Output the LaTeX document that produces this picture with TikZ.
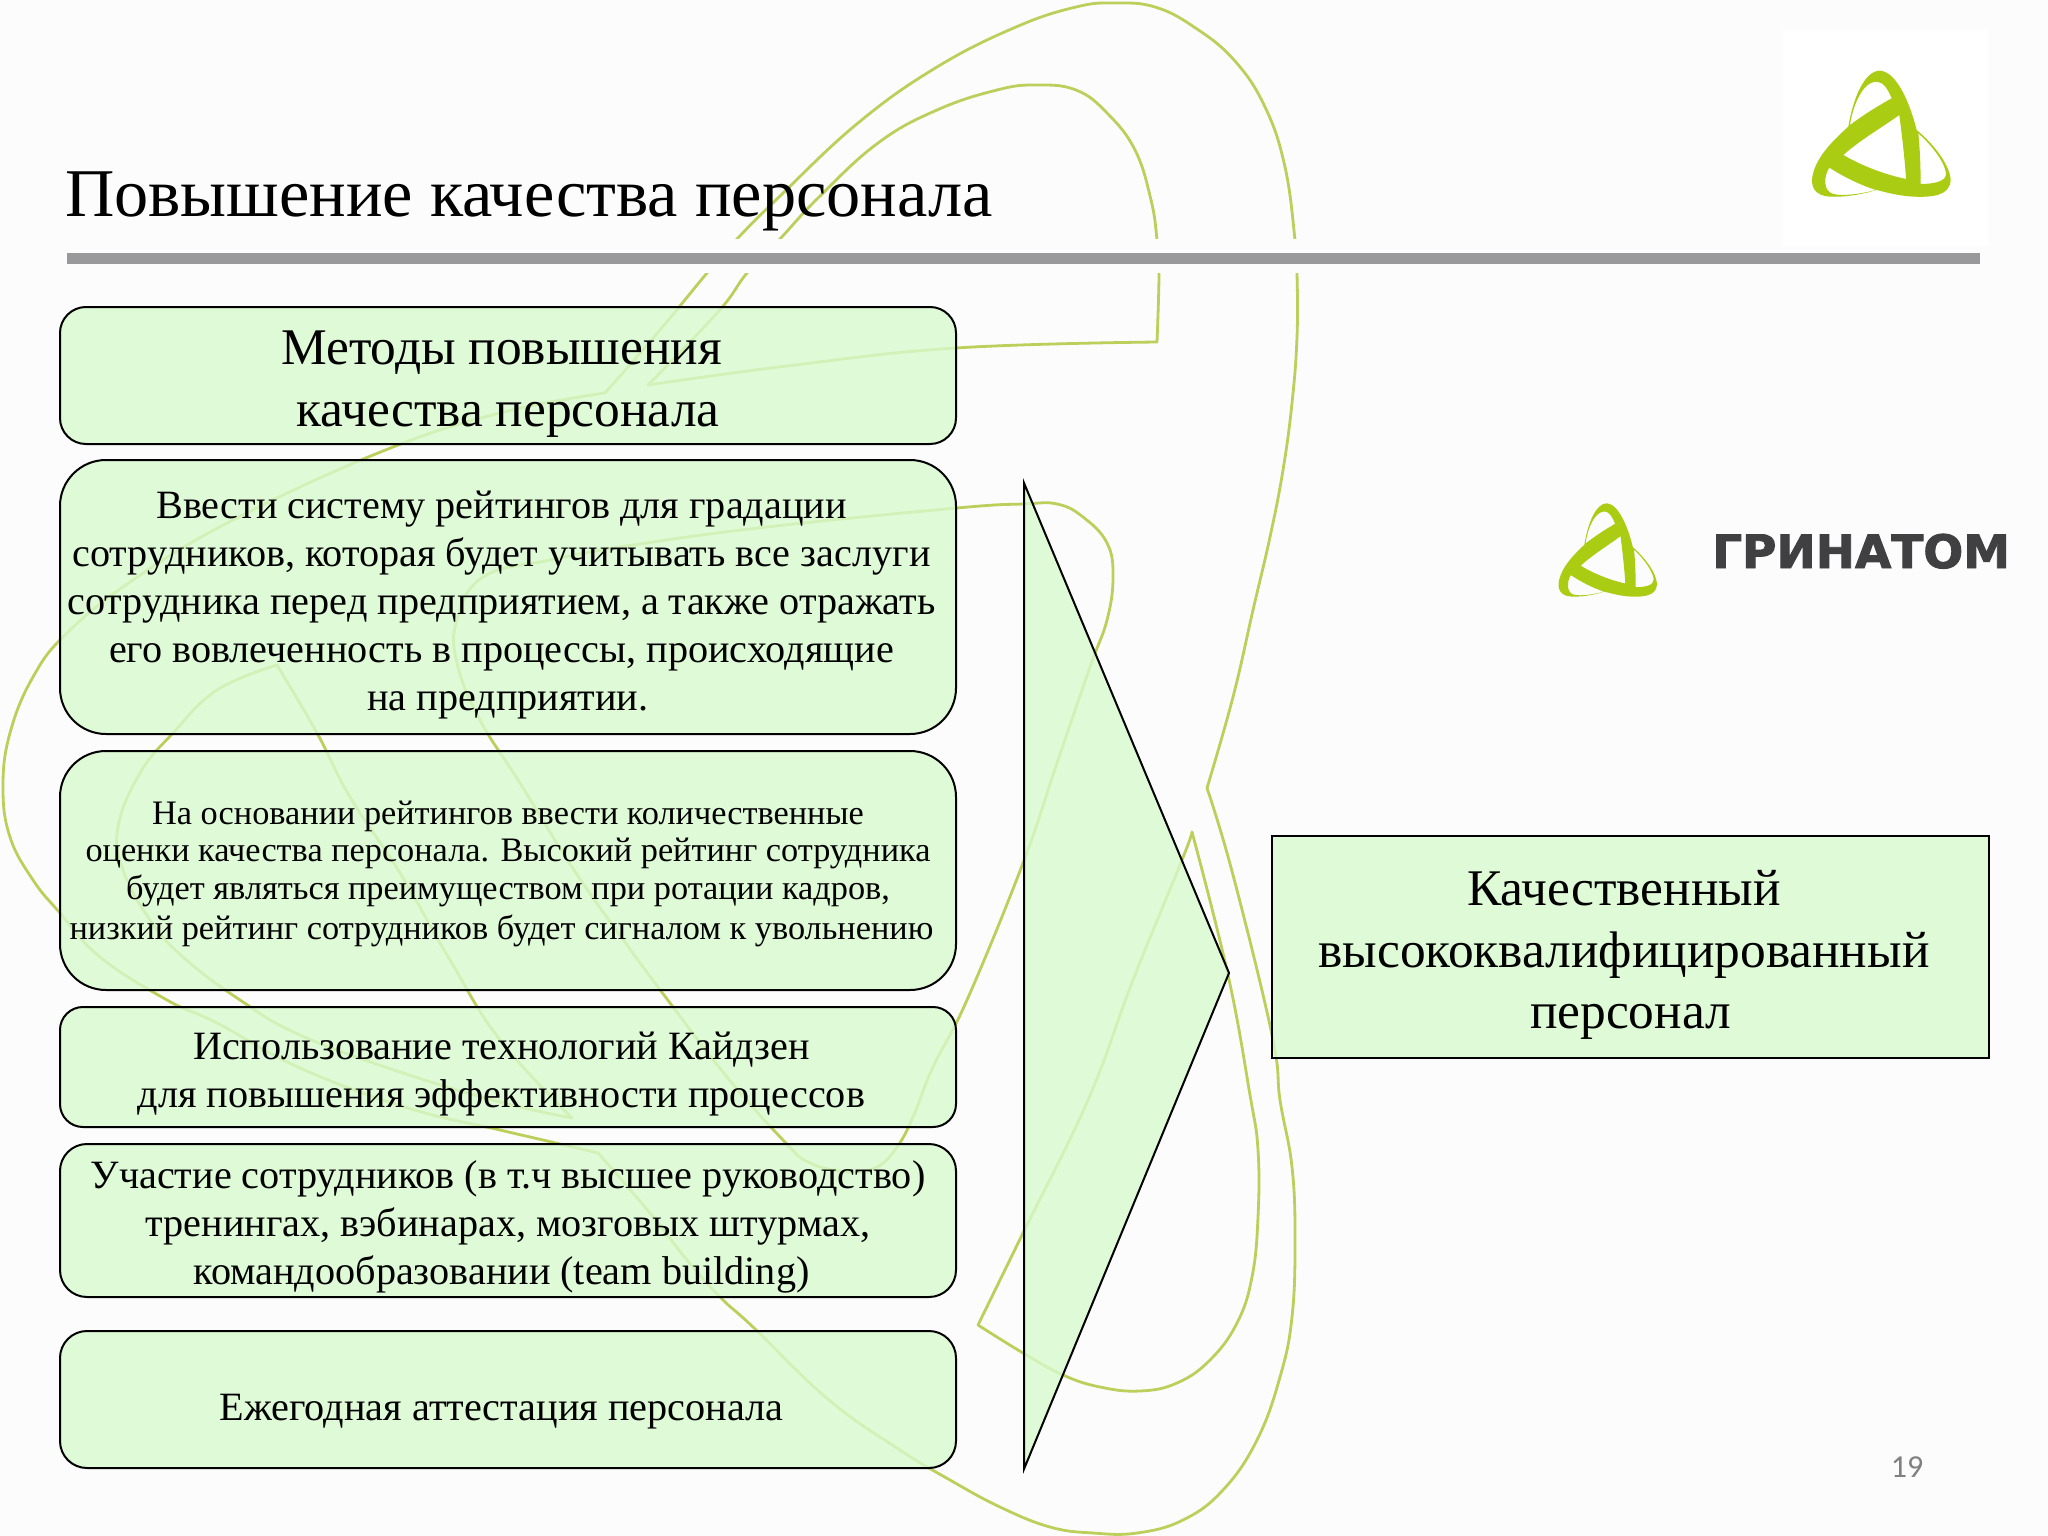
\documentclass[tikz,border=0pt]{standalone}
\usepackage{fontspec}
\setmainfont{Liberation Serif}
\newfontfamily\logofont[FakeBold=2]{DejaVu Sans Bold}
\newfontfamily\numfont{Carlito}
\definecolor{pagebg}{RGB}{252,252,253}
\definecolor{swirlc}{RGB}{187,207,90}
\definecolor{boxfill}{RGB}{216,250,206}
\definecolor{logog}{RGB}{170,205,20}
\definecolor{logot}{RGB}{64,64,66}
\definecolor{barc}{RGB}{153,153,155}
\newcommand{\tr}{\rule{13pt}{0pt}}
\newcommand{\logomark}{%
  \fill[logog,even odd rule]
    (540,212) .. controls (590,215) and (630,310) .. (650,390)
      .. controls (710,440) and (750,500) .. (752,540)
      .. controls (750,590) and (690,592) .. (640,590)
      .. controls (600,588) and (560,578) .. (530,570)
      .. controls (480,585) and (430,592) .. (390,590)
      .. controls (345,588) and (330,560) .. (338,525)
      .. controls (350,470) and (400,420) .. (445,380)
      .. controls (460,290) and (495,212) .. (540,212) -- cycle
    (430,465) .. controls (480,420) and (550,380) .. (598,345)
      .. controls (605,400) and (615,480) .. (618,537)
      .. controls (560,525) and (490,500) .. (430,465) -- cycle
    (450,375) .. controls (460,310) and (490,245) .. (530,245)
      .. controls (550,245) and (565,270) .. (575,295)
      .. controls (530,320) and (490,345) .. (450,375) -- cycle
    (655,400) .. controls (700,440) and (735,490) .. (738,520)
      .. controls (740,545) and (700,552) .. (662,552)
      .. controls (662,500) and (660,450) .. (655,400) -- cycle
    (388,503) .. controls (430,530) and (480,555) .. (528,570)
      .. controls (490,580) and (430,590) .. (400,582)
      .. controls (370,575) and (370,530) .. (388,503) -- cycle;}
\tikzset{
  swirl/.style={draw=swirlc,line width=2.8pt,line cap=round,line join=round},
  softfill/.style={fill=boxfill,fill opacity=0.8,text opacity=1},
  rbox/.style={softfill,draw=black,line width=2pt,minimum width=896pt,inner sep=0pt,rounded corners=#1},
  bodytext/.style={align=center,inner sep=0pt,text=black},
  bigt/.style={bodytext,font=\fontsize{51.4}{61.5}\selectfont},
  midt/.style={bodytext,font=\fontsize{40.2}{48}\selectfont},
  smallt/.style={bodytext,font=\fontsize{34.3}{37.5}\selectfont},
}
\begin{document}
\begin{tikzpicture}[x=1pt,y=-1pt]
\useasboundingbox (0,0) rectangle (2048,1536);
\fill[pagebg] (0,0) rectangle (2048,1536);
% swirl: outer ribbon
\draw[swirl] plot[smooth,tension=0.7] coordinates {(598,1153) (543,1140) (500,1130) (408,1108) (300,1068) (217,1023) (167,1000) (100,957) (60,913) (33,880) (10,837) (3,787) (10,733) (33,677) (67,633) (133,580) (233,520) (383,451) (500,413) (605,393)};
\draw[swirl] plot[smooth,tension=0.7] coordinates {(605,393) (660,330) (707,273) (736,240) (779,197) (858,123) (937,67) (1016,27) (1076,7) (1115,3) (1155,7) (1194,27) (1234,60) (1265,107) (1285,167) (1295,240) (1297,273) (1297,337) (1292,403) (1283,470) (1270,537) (1253,610) (1233,697) (1207,788)};
\draw[swirl] plot[smooth,tension=0.7] coordinates {(1207,788) (1233,875) (1272,1035) (1280,1100) (1292,1167) (1295,1240) (1292,1317) (1280,1377) (1257,1440) (1223,1490) (1183,1520) (1137,1533) (1093,1533) (1050,1527) (1000,1507) (950,1480) (900,1450) (829,1400) (753,1327) (720,1297) (687,1260) (650,1213) (598,1153)};
% swirl: top inner loop
\draw[swirl] plot[smooth,tension=0.7] coordinates {(1157,342) (1159,273) (1157,240) (1151,200) (1135,150) (1107,113) (1076,90) (1036,85) (997,90) (937,110) (878,143) (819,197) (779,240) (747,273) (718,312) (648,385)};
\draw[swirl] plot[smooth,tension=0.7] coordinates {(648,385) (787,366) (956,348) (1157,342)};
% swirl: big middle loop
\draw[swirl] plot[smooth cycle,tension=0.7] coordinates {(483,577) (457,620) (457,663) (480,720) (520,783) (574,870) (627,945) (670,1003) (727,1077) (783,1140) (810,1163) (850,1172) (877,1167) (897,1147) (913,1117) (933,1067) (967,1000) (1023,863) (1057,763) (1090,667) (1107,620) (1113,577) (1107,543) (1083,517) (1057,504) (1023,504) (957,508) (767,527) (633,545) (550,560)};
% swirl: left loop
\draw[swirl] plot[smooth,tension=0.7] coordinates {(277,665) (217,690) (173,733) (140,773) (118,827) (123,870) (150,920) (183,957) (240,1000) (300,1035) (400,1072) (500,1102) (572,1118)};
\draw[swirl] plot[smooth,tension=0.7] coordinates {(572,1118) (500,1040) (450,960) (400,873) (350,797) (317,733) (277,665)};
% swirl: lower right loop
\draw[swirl] plot[smooth,tension=0.7] coordinates {(1192,832) (1182,860) (1133,980) (1088,1100) (1023,1233) (978,1325)};
\draw[swirl] plot[smooth,tension=0.7] coordinates {(978,1325) (1023,1353) (1063,1375) (1100,1387) (1140,1391) (1177,1383) (1210,1360) (1237,1323) (1252,1277) (1258,1217) (1258,1150) (1250,1095) (1228,975) (1192,832)};
% band and bar
\fill[pagebg] (0,239) rectangle (2048,273);
\fill[barc] (67,253) rectangle (1980,264);
% logo panel
\fill[white] (1783,30) rectangle (1988,246);
\begin{scope}[shift={(1700,0)},x=0.3333pt,y=-0.3333pt]\logomark\end{scope}
\begin{scope}[shift={(1479,451)},x=0.2367pt,y=-0.2467pt]\logomark\end{scope}
\node[inner sep=0pt,anchor=base west,text=logot,font=\logofont\fontsize{46}{46}\selectfont] (brand) at (1712,568) {\scalebox{1.02}[1]{ГРИНАТОМ}};
% title
\node[inner sep=0pt,anchor=base west,text=black,font=\fontsize{68.3}{68}\selectfont] (title) at (65,216) {Повышение качества персонала};
% boxes
\node[rbox=26pt,minimum height=137pt] (b0) at (508,375.5) {};
\node[rbox=46pt,minimum height=274pt] (b1) at (508,597) {};
\node[rbox=46pt,minimum height=239pt] (b2) at (508,870.5) {};
\node[rbox=23pt,minimum height=120pt] (b3) at (508,1067) {};
\node[rbox=27pt,minimum height=153pt] (b4) at (508,1220.5) {};
\node[rbox=27pt,minimum height=137pt] (b5) at (508,1399.5) {};
\draw[softfill,draw=black,line width=2pt,line join=miter] (1024,483) -- (1229,973) -- (1024,1469) -- cycle;
\node[softfill,draw=black,line width=2pt,minimum width=717pt,minimum height=222pt,inner sep=0pt] (res) at (1630.5,947) {};
% texts
\node[bigt] (t0) at (508,384) {Методы повышения\tr\\качества персонала};
\node[midt] (t1) at (508,605) {Ввести систему рейтингов для градации\tr\\сотрудников, которая будет учитывать все заслуги\tr\\сотрудника перед предприятием, а также отражать\tr\\его вовлеченность в процессы, происходящие\tr\\на предприятии.};
\node[smallt] (t2) at (508,874) {На основании рейтингов ввести количественные\\оценки качества персонала. Высокий рейтинг сотрудника\\будет являться преимуществом при ротации кадров,\\[3pt]низкий рейтинг сотрудников будет сигналом к увольнению\tr};
\node[midt] (t3) at (508,1074) {Использование технологий Кайдзен\tr\\для повышения эффективности процессов\tr};
\node[midt] (t4) at (508,1227) {Участие сотрудников (в т.ч высшее руководство)\\тренингах, вэбинарах, мозговых штурмах,\\командообразовании (team building)\tr};
\node[midt] (t5) at (508,1412) {Ежегодная аттестация персонала\tr};
\node[bigt] (t6) at (1630.5,955) {Качественный\tr\\высококвалифицированный\tr\\персонал};
\node[inner sep=0pt,text=gray,font=\numfont\fontsize{32}{32}\selectfont] (pg) at (1907,1467) {19};
\end{tikzpicture}
\end{document}
